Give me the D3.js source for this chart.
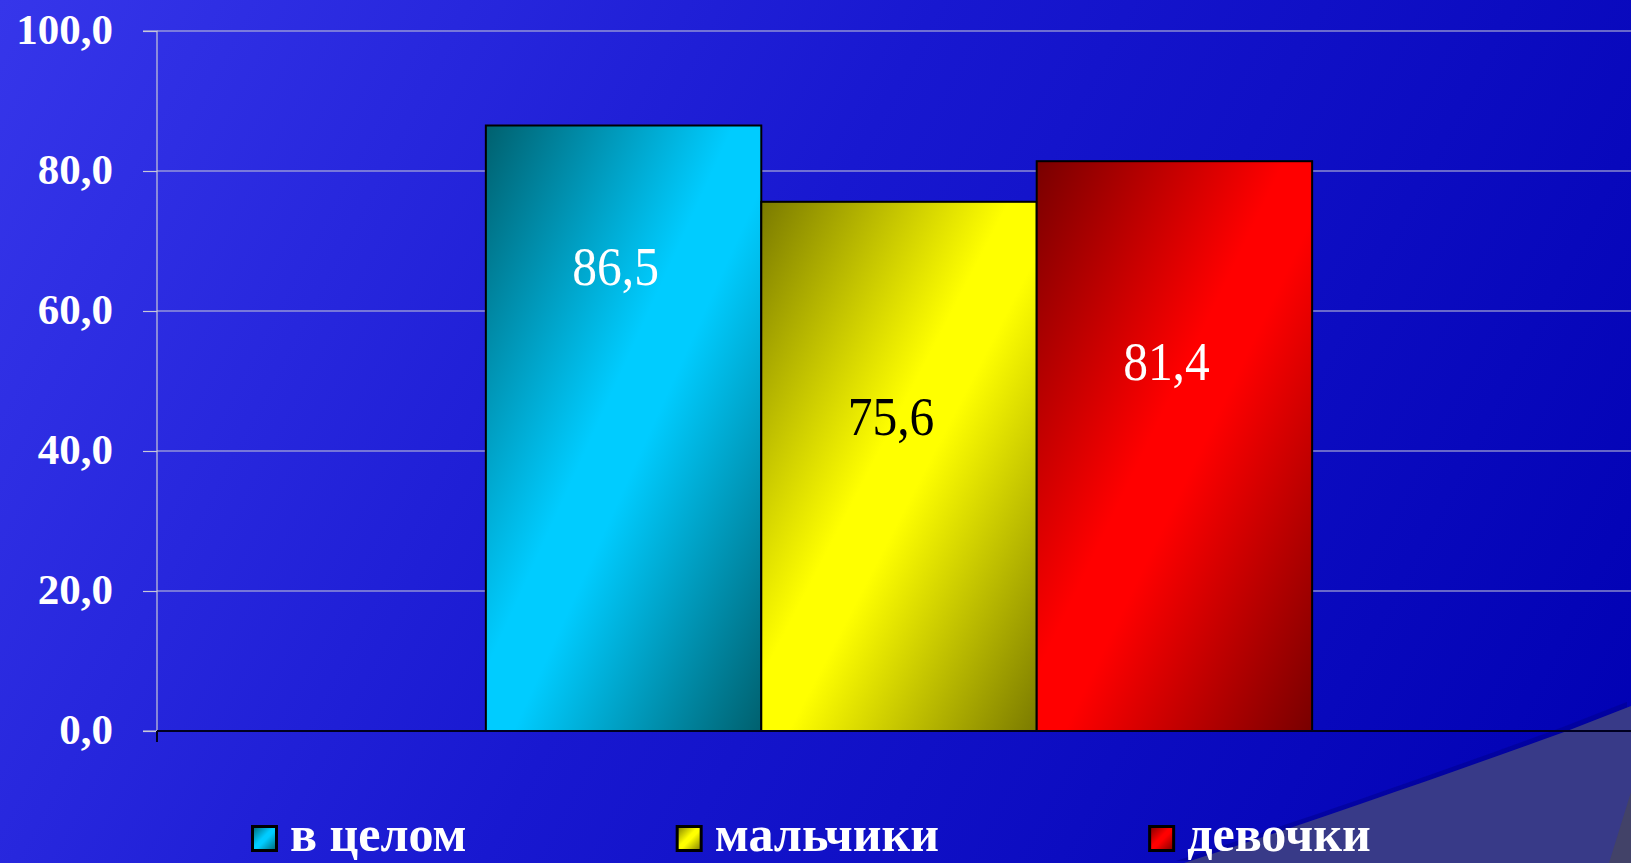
<!DOCTYPE html>
<html>
<head>
<meta charset="utf-8">
<script src="https://cdn.jsdelivr.net/npm/d3@7"></script>
<style>
html, body { margin: 0; padding: 0; overflow: hidden; background: #1818d0; }
svg { display: block; }
</style>
</head>
<body>
<svg id="chart" width="1631" height="863"></svg>
<script>
// ---- data ----
const categories = ["в целом", "мальчики", "девочки"];
const values = [86.5, 75.6, 81.4];
const valueLabels = ["86,5", "75,6", "81,4"];
const yTicks = [0, 20, 40, 60, 80, 100];
const yTickLabels = ["0,0", "20,0", "40,0", "60,0", "80,0", "100,0"];

// ---- styling (not data) ----
const barColors = [
  { dark: "#00606e", bright: "#00ccff", text: "#ffffff" },
  { dark: "#7a7a00", bright: "#ffff00", text: "#000000" },
  { dark: "#780000", bright: "#ff0000", text: "#ffffff" }
];
const labelAt = [63.7, 42.3, 50.1]; // label baseline positions (in data units), as placed in the original

const W = 1631, H = 863;
const plot = { left: 157, right: 1641, top: 31, bottom: 731 };
const svg = d3.select("#chart");
const defs = svg.append("defs");

// background gradient
const bg = defs.append("linearGradient").attr("id", "bg")
  .attr("gradientUnits", "userSpaceOnUse")
  .attr("x1", 0).attr("y1", 0).attr("x2", W).attr("y2", H);
bg.append("stop").attr("offset", 0).attr("stop-color", "rgb(54,54,234)");
bg.append("stop").attr("offset", 0.45).attr("stop-color", "rgb(24,24,208)");
bg.append("stop").attr("offset", 1).attr("stop-color", "rgb(0,0,178)");
svg.append("rect").attr("width", W).attr("height", H).attr("fill", "url(#bg)");

// decorative slide corner (shadowed edge + panel)
svg.append("path")
  .attr("d", "M1180,863 C1290,827 1420,783 1567,729 L1631,704 L1631,863 Z")
  .attr("fill", "rgb(0,0,140)").attr("opacity", 0.5)
  .attr("transform", "translate(-4,-2)");
svg.append("path")
  .attr("d", "M1184,863 C1295,827 1420,784 1567,731 L1631,706 L1631,863 Z")
  .attr("fill", "rgb(56,58,136)");
svg.append("path")
  .attr("d", "M1609,863 L1631,792 L1631,863 Z")
  .attr("fill", "rgb(66,66,104)");

// gradients for bars
barColors.forEach((c, i) => {
  const g = defs.append("linearGradient").attr("id", "g" + i)
    .attr("x1", 0).attr("y1", 0).attr("x2", 1).attr("y2", 1);
  g.append("stop").attr("offset", 0).attr("stop-color", c.dark);
  g.append("stop").attr("offset", 0.45).attr("stop-color", c.bright);
  g.append("stop").attr("offset", 0.55).attr("stop-color", c.bright);
  g.append("stop").attr("offset", 1).attr("stop-color", c.dark);
});

// scales
const y = d3.scaleLinear().domain([0, 100]).range([plot.bottom, plot.top]);
const x0 = d3.scaleBand().domain(["all"]).range([plot.left, plot.right])
  .paddingInner(0).paddingOuter(0.398);
const x1 = d3.scaleBand().domain(categories).range([0, x0.bandwidth()]).padding(0);

// gridlines
svg.append("g").selectAll("line").data(yTicks.filter(t => t > 0)).join("line")
  .attr("x1", plot.left).attr("x2", W)
  .attr("y1", d => y(d)).attr("y2", d => y(d))
  .attr("stroke", "#c8c8d8").attr("stroke-width", 1.2);

// y axis
const yAxis = d3.axisLeft(y).tickValues(yTicks).tickSize(14)
  .tickFormat((d, i) => yTickLabels[i]);
const ga = svg.append("g").attr("transform", `translate(${plot.left},0)`).call(yAxis);
ga.select(".domain").attr("stroke", "#c8c8d8").attr("stroke-width", 1.2)
  .attr("d", `M-14,${plot.top}H0V${plot.bottom}H-14`);
ga.selectAll(".tick line").attr("stroke", "#c8c8d8").attr("stroke-width", 1.2);
ga.selectAll(".tick text")
  .attr("x", -44).attr("dy", 12)
  .attr("fill", "#ffffff")
  .attr("font-family", "'Liberation Serif', 'Times New Roman', serif")
  .attr("font-weight", "bold")
  .attr("font-size", 43)
  .attr("text-anchor", "end");

// bars
const gx = x0("all");
svg.append("g").selectAll("rect").data(values).join("rect")
  .attr("x", (d, i) => gx + x1(categories[i]))
  .attr("y", d => y(d))
  .attr("width", x1.bandwidth())
  .attr("height", d => y(0) - y(d))
  .attr("fill", (d, i) => `url(#g${i})`)
  .attr("stroke", "#000").attr("stroke-width", 2);

// x axis line
svg.append("line").attr("x1", plot.left).attr("x2", W)
  .attr("y1", y(0)).attr("y2", y(0))
  .attr("stroke", "#000020").attr("stroke-width", 2);
svg.append("line").attr("x1", plot.left).attr("x2", plot.left)
  .attr("y1", y(0)).attr("y2", y(0) + 11)
  .attr("stroke", "#000020").attr("stroke-width", 2);

// value labels
svg.append("g").selectAll("text").data(values).join("text")
  .attr("transform", (d, i) => `translate(${gx + x1(categories[i]) + x1.bandwidth() / 2 - 8},${y(labelAt[i])}) scale(0.9,1)`)
  .attr("text-anchor", "middle")
  .attr("font-family", "'Liberation Serif', 'Times New Roman', serif")
  .attr("font-size", 55)
  .attr("fill", (d, i) => barColors[i].text)
  .text((d, i) => valueLabels[i]);

// legend
const leg = svg.append("g");
let lx = 251;
categories.forEach((c, i) => {
  leg.append("rect").attr("x", lx + 1.5).attr("y", 826.5).attr("width", 24).attr("height", 24)
    .attr("fill", `url(#g${i})`).attr("stroke", "#000").attr("stroke-width", 3);
  const t = leg.append("text").attr("x", lx + 39).attr("y", 851)
    .attr("font-family", "'Liberation Serif', 'Times New Roman', serif")
    .attr("font-weight", "bold").attr("font-size", 50)
    .attr("fill", "#ffffff").text(c);
  const w = t.node().getComputedTextLength();
  lx = lx + 39 + w + 209;
});
</script>
</body>
</html>
